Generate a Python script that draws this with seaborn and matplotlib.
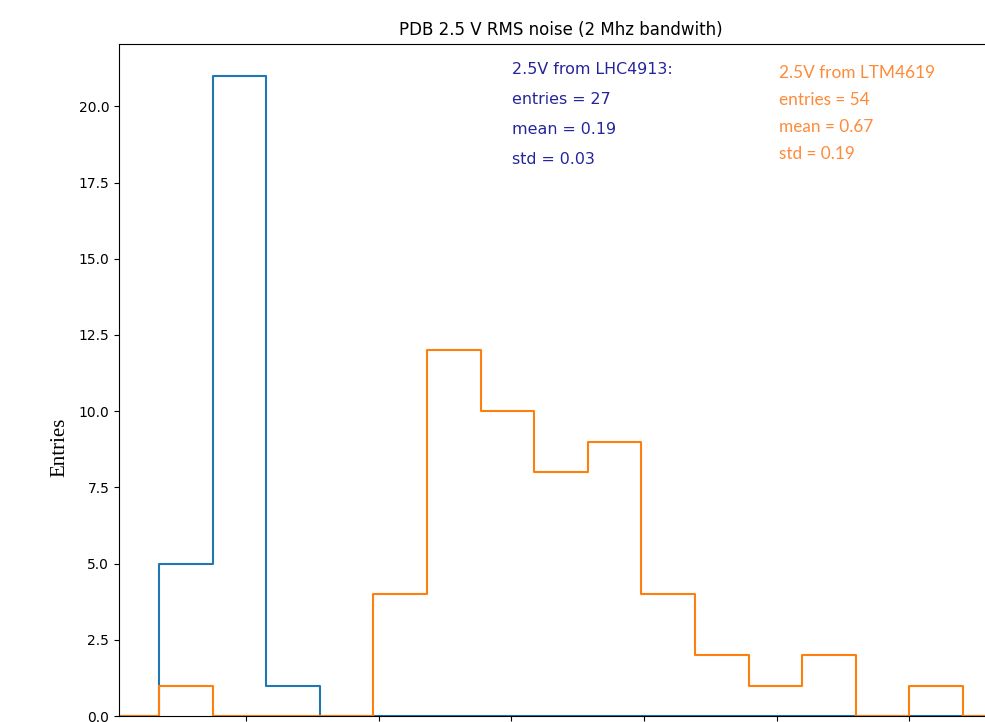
import numpy as np
import pandas as pd
import matplotlib.pyplot as plt
import seaborn as sns

# histogram bins (shared range of both datasets, 15 bins)
bin_lo, bin_hi, n_bins = 0.069, 1.281, 15

# counts per bin
lhc_counts = [5, 21, 1, 0, 0, 0, 0, 0, 0, 0, 0, 0, 0, 0, 0]
ltm_counts = [1, 0, 0, 0, 4, 12, 10, 8, 9, 4, 2, 1, 2, 0, 1]

lhc_text = ["2.5V from LHC4913:", "entries = 27", "mean = 0.19", "std = 0.03"]
ltm_text = ["2.5V from LTM4619", "entries = 54", "mean = 0.67", "std = 0.19"]

edges = np.linspace(bin_lo, bin_hi, n_bins + 1)
width = edges[1] - edges[0]
# one empty bin on each side so the step outline drops back to zero like hist(histtype='step')
pad_edges = np.concatenate([[bin_lo - width], edges, [bin_hi + width]])
centers = (pad_edges[:-1] + pad_edges[1:]) / 2
lhc = pd.DataFrame({"rms": centers, "n": [0] + lhc_counts + [0]})
ltm = pd.DataFrame({"rms": centers, "n": [0] + ltm_counts + [0]})

fig = plt.figure(figsize=(9.85, 7.22), dpi=100)
ax = fig.add_axes([0.1208, 0.0083, 0.8975, 0.931])

sns.histplot(data=lhc, x="rms", weights="n", bins=list(pad_edges), element="step",
             fill=False, color="#1f77b4", linewidth=1.5, ax=ax)
sns.histplot(data=ltm, x="rms", weights="n", bins=list(pad_edges), element="step",
             fill=False, color="#ff7f0e", linewidth=1.5, ax=ax)

span = bin_hi - bin_lo
ax.set_xlim(bin_lo - 0.05 * span, bin_hi + 0.05 * span)
ax.set_xticks([0.2, 0.4, 0.6, 0.8, 1.0, 1.2])
ax.tick_params(axis="x", labelbottom=False)  # labels fall outside the cropped picture
ax.set_xlabel("")
ax.set_ylabel("")
ax.set_title("PDB 2.5 V RMS noise (2 Mhz bandwith)", fontsize=12)

fig.text(60 / 985, 1 - 447 / 722, "Entries", rotation=90, ha="center", va="center",
         family="Liberation Serif", fontsize=15)

# stats boxes pasted on top of the plot
for i, s in enumerate(lhc_text):
    fig.text(512 / 985, 1 - (70 + 30 * i) / 722, s, ha="left", va="center",
             color="#24249c", fontsize=11.4, family="DejaVu Sans")
for i, s in enumerate(ltm_text):
    fig.text(779 / 985, 1 - (73 + 27 * i) / 722, s, ha="left", va="center",
             color="#ff8a3a", fontsize=12.4, family="Lato")

fig.savefig("out.png", dpi=100)
